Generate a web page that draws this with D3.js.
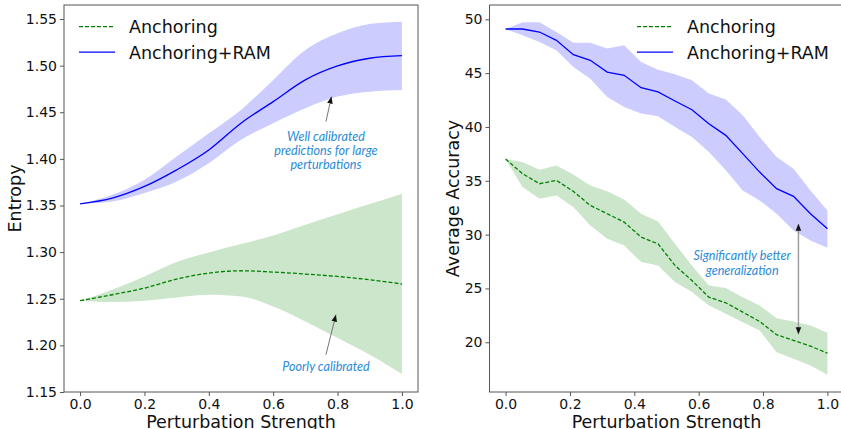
<!DOCTYPE html>
<html>
<head>
<meta charset="utf-8">
<script src="https://cdn.jsdelivr.net/npm/d3@7"></script>
<style>
  body { margin: 0; background: #fff; }
  svg text { font-family: "DejaVu Sans", sans-serif; fill: #111; }
  .note { font-family: Lato, "Open Sans", sans-serif; font-style: italic; fill: #2a8bd6; }
</style>
</head>
<body>
<svg id="chart" width="841" height="429"></svg>
<script>
// left panel: entropy vs perturbation strength (11 points)
var entX = [0.0, 0.1, 0.2, 0.3, 0.4, 0.5, 0.6, 0.7, 0.8, 0.9, 1.0];
var entAnchor = [1.2479, 1.2543, 1.2614, 1.2711, 1.2775, 1.2800, 1.2786, 1.2765, 1.2739, 1.2704, 1.2658];
var entAnchorHi = [1.2479, 1.2597, 1.2739, 1.2893, 1.2997, 1.3086, 1.3178, 1.3293, 1.3405, 1.3515, 1.3625];
var entAnchorLo = [1.2479, 1.2465, 1.2479, 1.2514, 1.2543, 1.2525, 1.2418, 1.2257, 1.2079, 1.1900, 1.1693];
var entRam = [1.3518, 1.3579, 1.3704, 1.3882, 1.4096, 1.4383, 1.4614, 1.4847, 1.4996, 1.5079, 1.5107];
var entRamHi = [1.3518, 1.3614, 1.3775, 1.4025, 1.4275, 1.4525, 1.4847, 1.5168, 1.5347, 1.5446, 1.5471];
var entRamLo = [1.3518, 1.3543, 1.3633, 1.3757, 1.3954, 1.4204, 1.4383, 1.4543, 1.4668, 1.4721, 1.4739];

// right panel: accuracy (20 points, 0..1)
var accX = d3.range(20).map(function(k){ return k / 19; });
var accAnchor = [37.02, 35.66, 34.73, 35.04, 34.02, 32.71, 31.94, 31.16, 29.77, 29.15, 27.14, 25.74, 24.19, 23.67, 22.80, 21.93, 20.70, 20.17, 19.64, 18.99];
var accAnchorHi = [37.02, 36.74, 36.03, 36.43, 35.59, 34.57, 34.04, 33.27, 31.94, 31.23, 29.15, 27.14, 25.28, 25.03, 24.19, 23.42, 22.24, 21.93, 21.56, 20.88];
var accAnchorLo = [37.02, 34.42, 33.34, 33.64, 32.56, 30.85, 29.62, 29.00, 27.45, 27.14, 25.59, 24.66, 23.42, 22.65, 21.87, 21.10, 19.08, 18.46, 17.84, 16.98];
var accRam = [49.10, 49.10, 48.82, 48.05, 46.72, 46.19, 45.10, 44.80, 43.65, 43.25, 42.41, 41.60, 40.30, 39.22, 37.52, 35.81, 34.27, 33.55, 31.94, 30.55];
var accRamHi = [49.10, 49.72, 49.72, 48.82, 47.83, 47.83, 47.28, 47.58, 46.03, 45.32, 44.89, 44.33, 43.10, 42.54, 41.08, 39.06, 37.20, 36.12, 34.10, 32.25];
var accRamLo = [49.10, 48.51, 47.90, 47.12, 45.57, 44.49, 42.78, 41.85, 41.24, 40.99, 40.00, 39.06, 37.67, 35.97, 34.10, 33.18, 31.94, 30.39, 29.46, 28.78];

var xTicks = [0.0, 0.2, 0.4, 0.6, 0.8, 1.0];
var entTicks = [1.15, 1.20, 1.25, 1.30, 1.35, 1.40, 1.45, 1.50, 1.55];
var accTicks = [20, 25, 30, 35, 40, 45, 50];
var seriesNames = ["Anchoring", "Anchoring+RAM"];

var svg = d3.select("#chart");
var GREEN = "#008000", BLUE = "#0000ff";

function panel(opt) {
	var x = d3.scaleLinear().domain([-0.05, 1.05]).range([opt.left, opt.left + 354]);
	var y = d3.scaleLinear().domain(opt.yDomain).range([392, 5]);
	var g = svg.append("g");

	// bands
	var area = d3.area().x(function(d){ return x(d[0]); }).y0(function(d){ return y(d[1]); }).y1(function(d){ return y(d[2]); }).curve(opt.curve);
	var line = d3.line().x(function(d){ return x(d[0]); }).y(function(d){ return y(d[1]); }).curve(opt.curve);
	function zip(xs, a, b) { return xs.map(function(v, i){ return [v, a[i], b ? b[i] : null]; }); }

	g.append("path").attr("d", area(zip(opt.xs, opt.aLo, opt.aHi))).attr("fill", GREEN).attr("fill-opacity", 0.2);
	g.append("path").attr("d", area(zip(opt.xs, opt.rLo, opt.rHi))).attr("fill", BLUE).attr("fill-opacity", 0.2);
	g.append("path").attr("d", line(zip(opt.xs, opt.a))).attr("fill", "none").attr("stroke", GREEN).attr("stroke-width", 1.3).attr("stroke-dasharray", "4,2");
	g.append("path").attr("d", line(zip(opt.xs, opt.r))).attr("fill", "none").attr("stroke", BLUE).attr("stroke-width", 1.3);

	// axes
	var xa = g.append("g").attr("transform", "translate(0,392)")
		.call(d3.axisBottom(x).tickValues(xTicks).tickFormat(d3.format(".1f")).tickSize(4).tickPadding(3));
	var ya = g.append("g").attr("transform", "translate(" + opt.left + ",0)")
		.call(d3.axisLeft(y).tickValues(opt.ticks).tickFormat(d3.format(opt.fmt)).tickSize(4).tickPadding(3));
	[xa, ya].forEach(function(a){
		a.select(".domain").remove();
		a.selectAll("line").attr("stroke", "#555");
		a.selectAll("text").attr("font-size", 14).attr("fill", "#111").attr("font-family", "DejaVu Sans");
	});
	g.append("rect").attr("x", opt.left).attr("y", 5).attr("width", 354).attr("height", 387)
		.attr("fill", "none").attr("stroke", "#555").attr("stroke-width", 1);

	g.append("text").attr("x", opt.left + 177).attr("y", 428).attr("text-anchor", "middle")
		.attr("font-size", 17.5).text("Perturbation Strength");
	g.append("text").attr("transform", "translate(" + opt.yLabelX + ",198.5) rotate(-90)")
		.attr("text-anchor", "middle").attr("font-size", 17.5).text(opt.yLabel);

	// legend
	var lg = g.append("g").attr("transform", "translate(" + opt.legendX + ",0)");
	seriesNames.forEach(function(name, i){
		var yy = 26.7 + i * 25.5;
		lg.append("line").attr("x1", 0).attr("x2", 36).attr("y1", yy).attr("y2", yy)
			.attr("stroke", i ? BLUE : GREEN).attr("stroke-width", 1.3).attr("stroke-dasharray", i ? null : "4,2");
		lg.append("text").attr("x", 50).attr("y", yy + 6.5).attr("font-size", 17.5).text(name);
	});

	return {x: x, y: y, g: g};
}

var L = panel({left: 64, yDomain: [1.15, 1.565], xs: entX, a: entAnchor, aHi: entAnchorHi, aLo: entAnchorLo,
	r: entRam, rHi: entRamHi, rLo: entRamLo, curve: d3.curveMonotoneX, ticks: entTicks, fmt: ".2f",
	yLabel: "Entropy", yLabelX: 21, legendX: 79});
var R = panel({left: 489.5, yDomain: [15.38, 51.33], xs: accX, a: accAnchor, aHi: accAnchorHi, aLo: accAnchorLo,
	r: accRam, rHi: accRamHi, rLo: accRamLo, curve: d3.curveLinear, ticks: accTicks, fmt: "d",
	yLabel: "Average Accuracy", yLabelX: 459, legendX: 637});

// annotations
var defs = svg.append("defs");
defs.append("marker").attr("id", "head").attr("viewBox", "0 0 10 10").attr("refX", 10).attr("refY", 5)
	.attr("markerWidth", 7).attr("markerHeight", 7).attr("markerUnits", "userSpaceOnUse").attr("orient", "auto-start-reverse")
	.append("path").attr("d", "M0,1 L10,5 L0,9 z").attr("fill", "#111");

function arrow(p, x1, y1, x2, y2, both, col, w) {
	p.g.append("line").attr("x1", p.x(x1)).attr("y1", p.y(y1)).attr("x2", p.x(x2)).attr("y2", p.y(y2))
		.attr("stroke", col).attr("stroke-width", w)
		.attr("marker-end", "url(#head)").attr("marker-start", both ? "url(#head)" : null);
}
function note(p, xv, yv, lines) {
	lines.forEach(function(t, i){
		p.g.append("text").attr("class", "note").attr("x", p.x(xv)).attr("y", p.y(yv) + i * 14.3)
			.attr("text-anchor", "middle").attr("font-size", 12.6).text(t);
	});
}

arrow(L, 0.764, 1.440, 0.781, 1.4668, false, "#666", 0.9);
note(L, 0.764, 1.4195, ["Well calibrated", "predictions for large", "perturbations"]);
arrow(L, 0.764, 1.190, 0.795, 1.2329, false, "#666", 0.9);
note(L, 0.764, 1.1730, ["Poorly calibrated"]);
arrow(R, 0.91, 31.0, 0.91, 20.75, true, "#999", 1.4);
note(R, 0.735, 27.6, ["Significantly better", "generalization"]);
</script>
</body>
</html>
